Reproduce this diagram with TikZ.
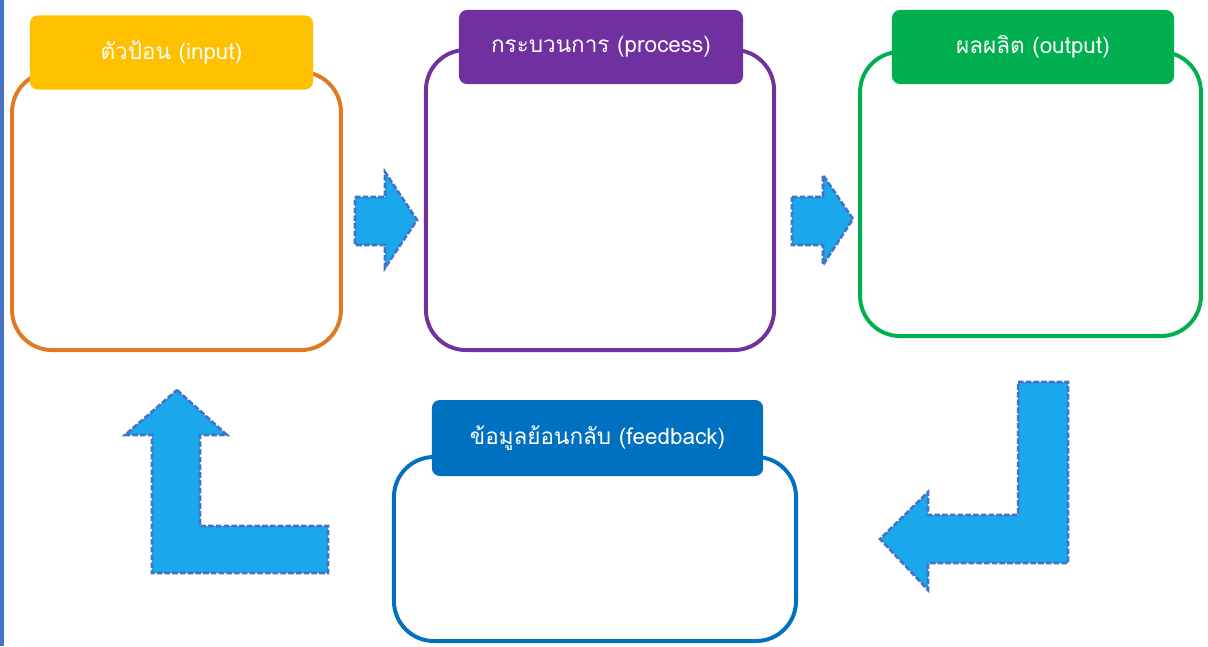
\documentclass[tikz,border=0pt]{standalone}
\usepackage{fontspec}
\newfontfamily\thaifont[Script=Thai]{Loma}
\definecolor{inorange}{HTML}{E07A22}
\definecolor{inyellow}{HTML}{FFC000}
\definecolor{procpurple}{HTML}{7030A0}
\definecolor{outgreen}{HTML}{00B050}
\definecolor{fbblue}{HTML}{0070C0}
\definecolor{arrowfill}{HTML}{1AA7EC}
\definecolor{arrowline}{HTML}{4472C4}
\begin{document}
\begin{tikzpicture}[x=0.025cm,y=-0.025cm,
	bigbox/.style={draw, line width=2.8pt, rounded corners=1cm, fill=white, inner sep=0pt},
	labelbox/.style={rounded corners=0.2cm, inner sep=0pt, minimum height=1.85cm,
		text=white, font=\thaifont\fontsize{16}{18}\selectfont},
	flowarrow/.style={fill=arrowfill, draw=arrowline, line width=1.8pt, dash pattern=on 4pt off 1.5pt}]
	% Fix the page size
	\useasboundingbox (0,0) rectangle (1208,646);
	\fill[white] (0,0) rectangle (1208,646);
	\draw[arrowline, line width=2.8pt] (2,0) -- (2,646);
	
	% Big boxes
	\node[bigbox, draw=inorange, minimum width=8.22cm, minimum height=6.95cm] (inbox) at (176.5,211) {};
	\node[bigbox, draw=procpurple, minimum width=8.7cm, minimum height=7.5cm] (procbox) at (600,200) {};
	\node[bigbox, draw=outgreen, minimum width=8.52cm, minimum height=7.1cm] (outbox) at (1030.5,194) {};
	\node[bigbox, draw=fbblue, minimum width=10.05cm, minimum height=4.6cm] (fbbox) at (595,549) {};
	
	% Labels on top of the boxes
	\node[labelbox, fill=inyellow, minimum width=7.08cm] (inlabel) at (171.5,52.5) {ตัวป้อน (input)};
	\node[labelbox, fill=procpurple, minimum width=7.1cm] (proclabel) at (601,47) {กระบวนการ (process)};
	\node[labelbox, fill=outgreen, minimum width=7.05cm] (outlabel) at (1033,47) {ผลผลิต (output)};
	\node[labelbox, fill=fbblue, minimum width=8.28cm, minimum height=1.9cm] (fblabel) at (597.5,438) {ข้อมูลย้อนกลับ (feedback)};
	
	% Arrows between input, process and output
	\draw[flowarrow] (355,197) -- (385,197) -- (385,172) -- (417,220) -- (385,268) -- (385,245) -- (355,245) -- cycle;
	\draw[flowarrow] (792,197) -- (823,197) -- (823,175) -- (853,219) -- (823,265) -- (823,245) -- (792,245) -- cycle;
	
	% Feedback arrows
	\draw[flowarrow] (1018,382) -- (1068,382) -- (1068,563) -- (928,563) -- (928,590) -- (880,539) -- (928,492) -- (928,515) -- (1018,515) -- cycle;
	\draw[flowarrow] (177,390) -- (227,435) -- (200,435) -- (200,526) -- (328,526) -- (328,573) -- (152,573) -- (152,435) -- (125,435) -- cycle;
\end{tikzpicture}
\end{document}
